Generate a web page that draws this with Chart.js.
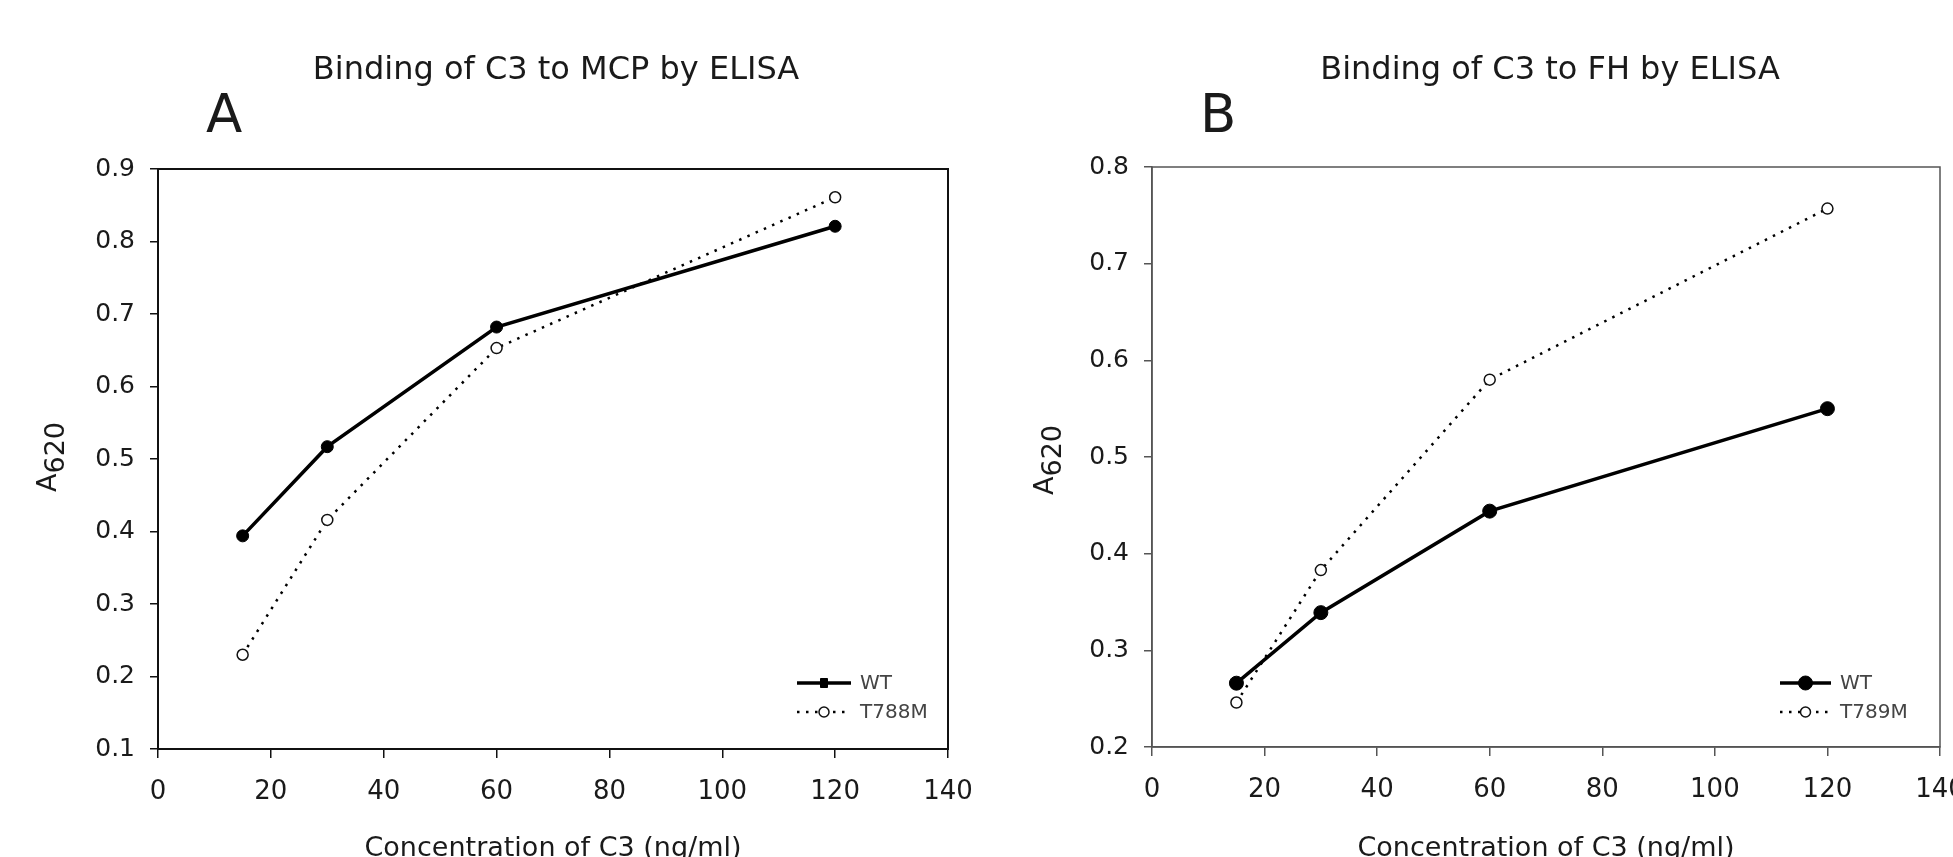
<!DOCTYPE html>
<html>
<head>
<meta charset="utf-8">
<script src="https://cdn.jsdelivr.net/npm/chart.js@4.4.1/dist/chart.umd.min.js"></script>
<style>
html, body { margin: 0; padding: 0; background: #fff; overflow: hidden; width: 1953px; height: 857px; }
.caixa { position: absolute; top: 0; height: 870px; }
#caixaA { left: 0; width: 1000px; }
#caixaB { left: 976px; width: 1010px; }
</style>
</head>
<body>
<div class="caixa" id="caixaA"><canvas id="graficoMCP"></canvas></div>
<div class="caixa" id="caixaB"><canvas id="graficoFH"></canvas></div>
<script>
// concentration of C3 (ng/ml)
const concentracoes = [15, 30, 60, 120];

// A620, panel A (MCP)
const mcpWT = [0.394, 0.517, 0.682, 0.821];
const mcpT788M = [0.230, 0.416, 0.653, 0.861];

// A620, panel B (FH)
const fhWT = [0.266, 0.339, 0.444, 0.550];
const fhT789M = [0.246, 0.383, 0.580, 0.757];

const ticksX = [0, 20, 40, 60, 80, 100, 120, 140];
const ticksYA = [0.1, 0.2, 0.3, 0.4, 0.5, 0.6, 0.7, 0.8, 0.9];
const ticksYB = [0.2, 0.3, 0.4, 0.5, 0.6, 0.7, 0.8];

const fonte = "'DejaVu Sans', 'Liberation Sans', sans-serif";

function pontos(ys){
    return concentracoes.map((x, i) => ({ x: x, y: ys[i] }));
}

// titles, panel letter, y title with subscript, frame and legend
const extras = {
    id: "extras",
    beforeDatasetsDraw(chart, args, o){
        const { ctx, chartArea: a } = chart;
        ctx.save();
        ctx.strokeStyle = o.corMoldura;
        ctx.lineWidth = o.larguraMoldura;
        ctx.strokeRect(a.left, a.top, a.right - a.left, a.bottom - a.top);
        ctx.restore();
    },
    afterDraw(chart, args, o){
        const { ctx, chartArea: a } = chart;
        ctx.save();
        ctx.fillStyle = "#1a1a1a";
        ctx.textBaseline = "alphabetic";

        ctx.font = "32px " + fonte;
        ctx.textAlign = "center";
        ctx.fillText(o.titulo, o.tituloX, 79);

        ctx.font = "53px " + fonte;
        ctx.textAlign = "left";
        ctx.fillText(o.letra, o.letraX, 132);

        // A620 with 620 lowered
        ctx.save();
        ctx.translate(o.yTituloX, o.yTituloY);
        ctx.rotate(-Math.PI / 2);
        ctx.font = "27px " + fonte;
        const wA = ctx.measureText("A").width;
        const w6 = ctx.measureText("620").width;
        const ini = -(wA + w6) / 2;
        ctx.fillText("A", ini, 9);
        ctx.fillText("620", ini + wA, 17);
        ctx.restore();

        // legend
        const x1 = a.right - o.legenda.dx;
        const x2 = x1 + o.legenda.largura;
        chart.data.datasets.forEach((ds, i) => {
            const y = a.bottom - o.legenda.dy[i];
            ctx.save();
            ctx.strokeStyle = ds.borderColor;
            ctx.lineWidth = ds.borderWidth;
            ctx.setLineDash(ds.borderDash || []);
            ctx.beginPath();
            ctx.moveTo(x1, y);
            ctx.lineTo(x2, y);
            ctx.stroke();
            ctx.restore();
            const xm = (x1 + x2) / 2;
            ctx.save();
            ctx.fillStyle = ds.pointBackgroundColor;
            ctx.strokeStyle = ds.pointBorderColor;
            ctx.lineWidth = ds.pointBorderWidth;
            ctx.beginPath();
            if(o.legenda.quadrado && i === 0){
                ctx.rect(xm - 3.5, y - 4.5, 7, 9);
            } else {
                ctx.arc(xm, y, o.legenda.raio[i], 0, Math.PI * 2);
            }
            ctx.fill();
            ctx.stroke();
            ctx.restore();
            ctx.fillStyle = "#444";
            ctx.font = "20px " + fonte;
            ctx.textAlign = "left";
            ctx.textBaseline = "middle";
            ctx.fillText(ds.label, x2 + 9, y + 1);
        });
        ctx.restore();
    }
};

function criarGrafico(id, cfg){
    const ctx = document.getElementById(id);
    new Chart(ctx, {
        type: "line",
        data: {
            datasets: [
                {
                    label: "WT",
                    data: pontos(cfg.wt),
                    borderColor: "#000",
                    borderWidth: 3.5,
                    pointRadius: cfg.raioWT,
                    pointBackgroundColor: "#000",
                    pointBorderColor: "#000",
                    pointBorderWidth: 1,
                    tension: 0
                },
                {
                    label: cfg.nomeMutante,
                    data: pontos(cfg.mutante),
                    borderColor: "#000",
                    borderWidth: 2.5,
                    borderDash: [2.5, 6.5],
                    pointRadius: 5.5,
                    pointBackgroundColor: "#fff",
                    pointBorderColor: "#111",
                    pointBorderWidth: 1.5,
                    tension: 0
                }
            ]
        },
        options: {
            responsive: true,
            maintainAspectRatio: false,
            animation: false,
            events: [],
            layout: {
                padding: { top: cfg.topo, right: cfg.direita, left: 0, bottom: 0 }
            },
            plugins: {
                legend: { display: false },
                title: { display: false },
                tooltip: { enabled: false },
                extras: cfg.extras
            },
            scales: {
                x: {
                    type: "linear",
                    position: "bottom",
                    min: 0,
                    max: 140,
                    afterBuildTicks: s => { s.ticks = ticksX.map(v => ({ value: v })); },
                    afterFit: s => { s.height = cfg.alturaX; },
                    grid: {
                        drawOnChartArea: false,
                        drawTicks: true,
                        tickLength: 9,
                        color: cfg.corMoldura,
                        lineWidth: 1.5
                    },
                    border: { display: true, color: cfg.corMoldura, width: cfg.larguraMoldura },
                    ticks: {
                        color: "#1a1a1a",
                        font: { family: fonte, size: 26 },
                        padding: 19,
                        maxRotation: 0,
                        autoSkip: false
                    },
                    title: {
                        display: true,
                        text: "Concentration of C3 (ng/ml)",
                        color: "#1a1a1a",
                        font: { family: fonte, size: 27 },
                        padding: { top: 0, bottom: 5 }
                    }
                },
                y: {
                    min: cfg.ticksY[0],
                    max: cfg.ticksY[cfg.ticksY.length - 1],
                    afterBuildTicks: s => { s.ticks = cfg.ticksY.map(v => ({ value: v })); },
                    afterFit: s => { s.width = cfg.larguraY; },
                    grid: {
                        drawOnChartArea: false,
                        drawTicks: true,
                        tickLength: 8,
                        color: cfg.corMoldura,
                        lineWidth: 1.5
                    },
                    border: { display: true, color: cfg.corMoldura, width: cfg.larguraMoldura },
                    ticks: {
                        color: "#1a1a1a",
                        font: { family: fonte, size: 25 },
                        padding: 15,
                        callback: v => v.toFixed(1)
                    }
                }
            }
        },
        plugins: [extras]
    });
}

criarGrafico("graficoMCP", {
    wt: mcpWT,
    mutante: mcpT788M,
    nomeMutante: "T788M",
    raioWT: 6,
    ticksY: ticksYA,
    topo: 169,
    direita: 52,
    larguraY: 158,
    alturaX: 121,
    corMoldura: "#111",
    larguraMoldura: 2,
    extras: {
        titulo: "Binding of C3 to MCP by ELISA",
        tituloX: 556,
        letra: "A",
        letraX: 206,
        yTituloX: 47,
        yTituloY: 457,
        corMoldura: "#111",
        larguraMoldura: 2,
        legenda: { dx: 151, largura: 54, dy: [66, 37], raio: [4, 5], quadrado: true }
    }
});

criarGrafico("graficoFH", {
    wt: fhWT,
    mutante: fhT789M,
    nomeMutante: "T789M",
    raioWT: 7,
    ticksY: ticksYB,
    topo: 167,
    direita: 46,
    larguraY: 176,
    alturaX: 123,
    corMoldura: "#555",
    larguraMoldura: 1.5,
    extras: {
        titulo: "Binding of C3 to FH by ELISA",
        tituloX: 574,
        letra: "B",
        letraX: 224,
        yTituloX: 68,
        yTituloY: 460,
        corMoldura: "#555",
        larguraMoldura: 1.5,
        legenda: { dx: 160, largura: 51, dy: [64, 35], raio: [7, 5], quadrado: false }
    }
});
</script>
</body>
</html>
